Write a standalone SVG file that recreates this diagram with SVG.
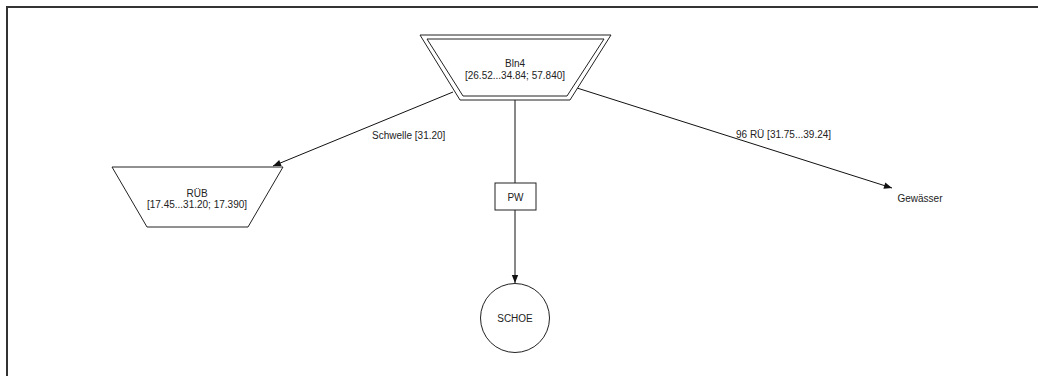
<svg xmlns="http://www.w3.org/2000/svg" width="1038" height="376" viewBox="0 0 1038 376">
<defs>
<style>
text{font-family:"Liberation Sans",Arial,sans-serif;font-size:10px;fill:#222;text-anchor:middle;dominant-baseline:central}
.shape{fill:#fff;stroke:#222;stroke-width:1}
.edge{fill:none;stroke:#111;stroke-width:1}
.lbl{text-anchor:start}
</style>
<marker id="arr" viewBox="0 0 10 10" refX="10" refY="5" markerWidth="10" markerHeight="8" markerUnits="userSpaceOnUse" orient="auto">
<path d="M0,1 L10,5 L0,9 Z" fill="#111"/>
</marker>
</defs>
<rect width="1038" height="376" fill="#fff"/>
<path d="M7,376 V7 H1038" fill="none" stroke="#333" stroke-width="2"/>
<g id="connectors">
<line class="edge" x1="453" y1="92" x2="273" y2="166" marker-end="url(#arr)"/>
<text class="lbl" x="372" y="135">Schwelle [31.20]</text>
<line class="edge" x1="515" y1="100" x2="515" y2="183"/>
<line class="edge" x1="515" y1="210" x2="515" y2="283" marker-end="url(#arr)"/>
<line class="edge" x1="577" y1="88" x2="892" y2="188" marker-end="url(#arr)"/>
<text class="lbl" x="736" y="134">96 RÜ [31.75...39.24]</text>
</g>
<g id="Bln4">
<polygon class="shape" points="420,35 611,35 570,100 460,100"/>
<polygon class="shape" points="427,39 604,39 567,96 463,96"/>
<text x="515" y="63">Bln4</text>
<text x="515" y="75">[26.52...34.84; 57.840]</text>
</g>
<g id="RUEB">
<polygon class="shape" points="112,167 283,167 248,227 147,227"/>
<text x="197" y="193">RÜB</text>
<text x="197" y="204">[17.45...31.20; 17.390]</text>
</g>
<g id="PW">
<rect class="shape" x="495" y="183" width="41" height="27"/>
<text x="515.5" y="197">PW</text>
</g>
<g id="SCHOE">
<circle class="shape" cx="515" cy="318" r="34.5"/>
<text x="515" y="318">SCHOE</text>
</g>
<g id="Gewaesser">
<text x="920" y="198">Gewässer</text>
</g>
</svg>
